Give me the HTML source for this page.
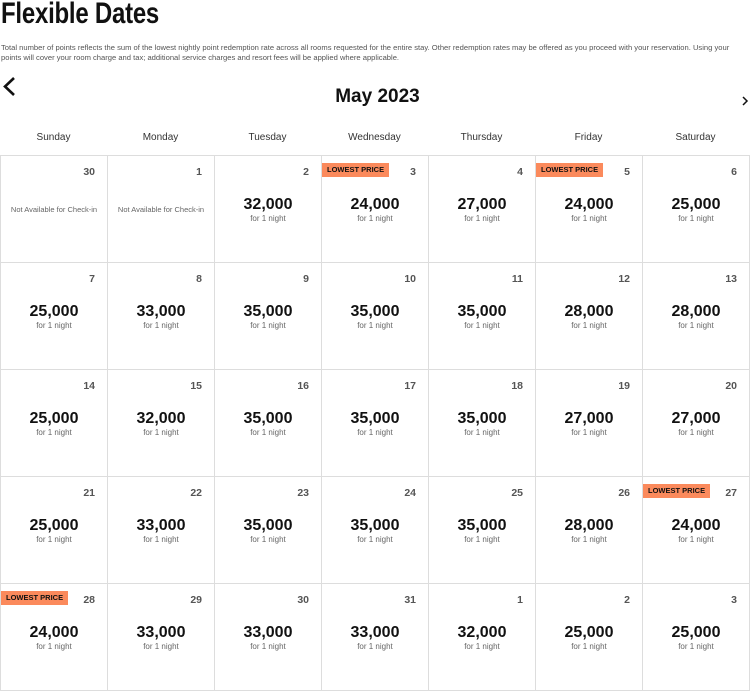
<!DOCTYPE html>
<html><head><meta charset="utf-8"><style>
body{margin:0;width:750px;height:690px;overflow:hidden;background:#fff;font-family:"Liberation Sans",sans-serif;color:#111;position:relative}
h1{position:absolute;left:1px;top:-3px;margin:0;font-family:"Liberation Sans",sans-serif;font-size:30px;font-weight:bold;letter-spacing:-0.3px;transform:scaleX(0.8);transform-origin:0 0;white-space:nowrap}
.desc{position:absolute;left:1px;top:43px;width:750px;font-size:7.6px;line-height:9.5px;color:#555}
.month{position:absolute;left:0;width:755px;top:86px;text-align:center;font-size:19px;font-weight:bold}
.dn{position:absolute;top:132px;width:107px;text-align:center;font-size:10px;color:#333}
.c{position:absolute;width:106px;height:106px;border-right:1px solid #ddd;border-bottom:1px solid #ddd}
.grid{position:absolute;left:0;top:155px;width:749px;height:535px;border-top:1px solid #ddd;border-left:1px solid #ddd}
.d{position:absolute;right:12px;top:10px;font-size:10.5px;font-weight:bold;color:#555}
.p{position:absolute;left:0;right:0;top:40px;text-align:center;font-size:16px;font-weight:bold;color:#111}
.s{position:absolute;left:0;right:0;top:58px;text-align:center;font-size:8px;color:#666}
.na{position:absolute;left:0;right:0;top:49px;text-align:center;font-size:7.5px;color:#666}
.lp{position:absolute;left:0;top:7px;background:#fb8a5c;color:#111;font-size:7.5px;font-weight:bold;padding:3px 5px;line-height:8px}
</style></head><body>
<h1>Flexible Dates</h1>
<div class="desc">Total number of points reflects the sum of the lowest nightly point redemption rate across all rooms requested for the entire stay. Other redemption rates may be offered as you proceed with your reservation. Using your points will cover your room charge and tax; additional service charges and resort fees will be applied where applicable.</div>
<svg style="position:absolute;left:0;top:0" width="750" height="120"><polyline points="14,78 5,86.5 14,95" fill="none" stroke="#111" stroke-width="2.6"/><polyline points="743,97 747,101 743,105" fill="none" stroke="#111" stroke-width="1.5"/></svg>
<div class="month">May 2023</div>
<div class="dn" style="left:0">Sunday</div><div class="dn" style="left:107px">Monday</div><div class="dn" style="left:214px">Tuesday</div><div class="dn" style="left:321px">Wednesday</div><div class="dn" style="left:428px">Thursday</div><div class="dn" style="left:535px">Friday</div><div class="dn" style="left:642px">Saturday</div>
<div class="grid">
<div class="c" style="left:0;top:0"><span class="d">30</span><div class="na">Not Available for Check-in</div></div>
<div class="c" style="left:107px;top:0"><span class="d">1</span><div class="na">Not Available for Check-in</div></div>
<div class="c" style="left:214px;top:0"><span class="d">2</span><div class="p">32,000</div><div class="s">for 1 night</div></div>
<div class="c" style="left:321px;top:0"><span class="lp">LOWEST PRICE</span><span class="d">3</span><div class="p">24,000</div><div class="s">for 1 night</div></div>
<div class="c" style="left:428px;top:0"><span class="d">4</span><div class="p">27,000</div><div class="s">for 1 night</div></div>
<div class="c" style="left:535px;top:0"><span class="lp">LOWEST PRICE</span><span class="d">5</span><div class="p">24,000</div><div class="s">for 1 night</div></div>
<div class="c" style="left:642px;top:0"><span class="d">6</span><div class="p">25,000</div><div class="s">for 1 night</div></div>

<div class="c" style="left:0;top:107px"><span class="d">7</span><div class="p">25,000</div><div class="s">for 1 night</div></div>
<div class="c" style="left:107px;top:107px"><span class="d">8</span><div class="p">33,000</div><div class="s">for 1 night</div></div>
<div class="c" style="left:214px;top:107px"><span class="d">9</span><div class="p">35,000</div><div class="s">for 1 night</div></div>
<div class="c" style="left:321px;top:107px"><span class="d">10</span><div class="p">35,000</div><div class="s">for 1 night</div></div>
<div class="c" style="left:428px;top:107px"><span class="d">11</span><div class="p">35,000</div><div class="s">for 1 night</div></div>
<div class="c" style="left:535px;top:107px"><span class="d">12</span><div class="p">28,000</div><div class="s">for 1 night</div></div>
<div class="c" style="left:642px;top:107px"><span class="d">13</span><div class="p">28,000</div><div class="s">for 1 night</div></div>

<div class="c" style="left:0;top:214px"><span class="d">14</span><div class="p">25,000</div><div class="s">for 1 night</div></div>
<div class="c" style="left:107px;top:214px"><span class="d">15</span><div class="p">32,000</div><div class="s">for 1 night</div></div>
<div class="c" style="left:214px;top:214px"><span class="d">16</span><div class="p">35,000</div><div class="s">for 1 night</div></div>
<div class="c" style="left:321px;top:214px"><span class="d">17</span><div class="p">35,000</div><div class="s">for 1 night</div></div>
<div class="c" style="left:428px;top:214px"><span class="d">18</span><div class="p">35,000</div><div class="s">for 1 night</div></div>
<div class="c" style="left:535px;top:214px"><span class="d">19</span><div class="p">27,000</div><div class="s">for 1 night</div></div>
<div class="c" style="left:642px;top:214px"><span class="d">20</span><div class="p">27,000</div><div class="s">for 1 night</div></div>

<div class="c" style="left:0;top:321px"><span class="d">21</span><div class="p">25,000</div><div class="s">for 1 night</div></div>
<div class="c" style="left:107px;top:321px"><span class="d">22</span><div class="p">33,000</div><div class="s">for 1 night</div></div>
<div class="c" style="left:214px;top:321px"><span class="d">23</span><div class="p">35,000</div><div class="s">for 1 night</div></div>
<div class="c" style="left:321px;top:321px"><span class="d">24</span><div class="p">35,000</div><div class="s">for 1 night</div></div>
<div class="c" style="left:428px;top:321px"><span class="d">25</span><div class="p">35,000</div><div class="s">for 1 night</div></div>
<div class="c" style="left:535px;top:321px"><span class="d">26</span><div class="p">28,000</div><div class="s">for 1 night</div></div>
<div class="c" style="left:642px;top:321px"><span class="lp">LOWEST PRICE</span><span class="d">27</span><div class="p">24,000</div><div class="s">for 1 night</div></div>

<div class="c" style="left:0;top:428px"><span class="lp">LOWEST PRICE</span><span class="d">28</span><div class="p">24,000</div><div class="s">for 1 night</div></div>
<div class="c" style="left:107px;top:428px"><span class="d">29</span><div class="p">33,000</div><div class="s">for 1 night</div></div>
<div class="c" style="left:214px;top:428px"><span class="d">30</span><div class="p">33,000</div><div class="s">for 1 night</div></div>
<div class="c" style="left:321px;top:428px"><span class="d">31</span><div class="p">33,000</div><div class="s">for 1 night</div></div>
<div class="c" style="left:428px;top:428px"><span class="d">1</span><div class="p">32,000</div><div class="s">for 1 night</div></div>
<div class="c" style="left:535px;top:428px"><span class="d">2</span><div class="p">25,000</div><div class="s">for 1 night</div></div>
<div class="c" style="left:642px;top:428px"><span class="d">3</span><div class="p">25,000</div><div class="s">for 1 night</div></div>
</div>
</body></html>
